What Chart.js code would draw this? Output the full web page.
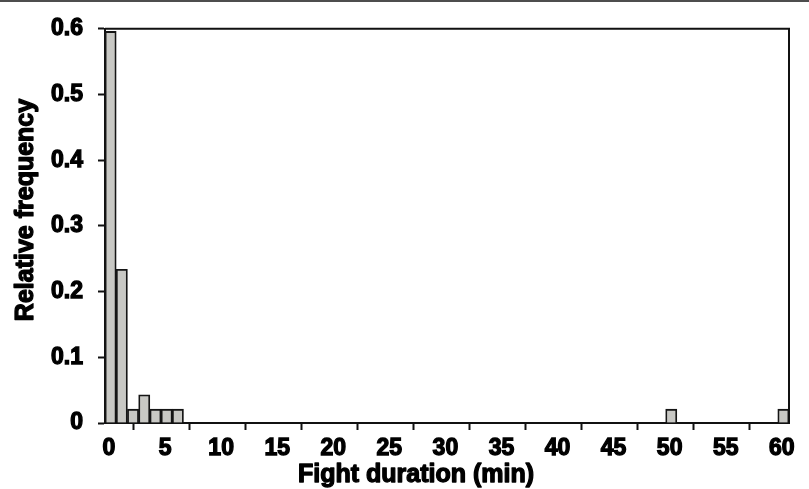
<!DOCTYPE html>
<html>
<head>
<meta charset="utf-8">
<script src="https://cdn.jsdelivr.net/npm/chart.js@4"></script>
<style>
  html, body { margin: 0; padding: 0; background: #fff; }
  #wrap { position: relative; width: 809px; height: 489px; }
  #topline { position: absolute; left: 0; top: 0; width: 809px; height: 2px; background: #4d4d4d; }
</style>
</head>
<body>
<div id="wrap">
  <canvas id="c" width="809" height="489"></canvas>
  <div id="topline"></div>
</div>
<script>
// Histogram bins: left edge (minutes) of each 1-minute bin that has data
const binStart = [0, 1, 2, 3, 4, 5, 6, 50, 60];
// Relative frequency of each bin
const relFreq = [0.596, 0.234, 0.021, 0.043, 0.021, 0.021, 0.021, 0.021, 0.021];
const binWidth = 1;
// Axis ticks
const xTicks = [0, 5, 10, 15, 20, 25, 30, 35, 40, 45, 50, 55, 60];
const yTicks = [0, 0.1, 0.2, 0.3, 0.4, 0.5, 0.6];
const yTickLabels = ['0', '0.1', '0.2', '0.3', '0.4', '0.5', '0.6'];
const xTitle = 'Fight duration (min)';
const yTitle = 'Relative frequency';

const FONT = "'Liberation Sans', Arial, sans-serif";

const points = binStart.map((b, i) => ({ x: b + binWidth / 2, y: relFreq[i] }));

const framePlugin = {
  id: 'frame',
  afterDatasetsDraw(chart) {
    const { ctx, chartArea: a } = chart;
    ctx.save();
    ctx.strokeStyle = '#111';
    ctx.lineWidth = 2;
    ctx.beginPath();
    ctx.moveTo(a.left, a.top);
    ctx.lineTo(a.right, a.top);
    ctx.lineTo(a.right, a.bottom);
    ctx.stroke();
    ctx.restore();
  }
};

const titlePlugin = {
  id: 'axisTitles',
  afterDraw(chart) {
    const { ctx } = chart;
    ctx.save();
    ctx.fillStyle = '#000';
    ctx.strokeStyle = '#000';
    ctx.lineWidth = 1.3;
    ctx.lineJoin = 'round';
    ctx.font = "bold 25px " + FONT;
    ctx.textAlign = 'center';
    ctx.textBaseline = 'middle';
    ctx.strokeText(xTitle, 416, 475);
    ctx.fillText(xTitle, 416, 475);
    ctx.translate(26, 210);
    ctx.rotate(-Math.PI / 2);
    ctx.strokeText(yTitle, 0, 0);
    ctx.fillText(yTitle, 0, 0);
    ctx.restore();
  }
};

new Chart(document.getElementById('c'), {
  type: 'bar',
  data: {
    datasets: [{
      data: points,
      backgroundColor: 'rgb(200,200,196)',
      borderColor: '#151515',
      borderWidth: 1.8,
      borderSkipped: 'start',
      barPercentage: 1,
      categoryPercentage: 1
    }]
  },
  options: {
    responsive: false,
    animation: false,
    events: [],
    layout: { padding: { left: 0, top: 23, right: 20, bottom: 0 } },
    plugins: { legend: { display: false }, tooltip: { enabled: false }, title: { display: false } },
    scales: {
      x: {
        type: 'linear',
        min: 0,
        max: 61,
        offset: false,
        afterBuildTicks(s) { s.ticks = xTicks.map(v => ({ value: v })); },
        afterFit(s) { s.height = 66; },
        grid: { drawOnChartArea: false, drawTicks: true, tickLength: 7, tickWidth: 2, tickColor: '#111' },
        border: { display: true, color: '#111', width: 2 },
        ticks: {
          color: '#000',
          textStrokeColor: '#000',
          textStrokeWidth: 1.3,
          font: { family: FONT, size: 23, weight: 'bold' },
          padding: 5,
          labelOffset: 4,
          maxRotation: 0,
          autoSkip: false,
          callback: (v) => String(v)
        },
        title: { display: false }
      },
      y: {
        type: 'linear',
        min: 0,
        max: 0.6,
        afterBuildTicks(s) { s.ticks = yTicks.map(v => ({ value: v })); },
        afterFit(s) { s.width = 105; },
        grid: { drawOnChartArea: false, drawTicks: true, tickLength: 7, tickWidth: 2, tickColor: '#111' },
        border: { display: true, color: '#111', width: 2 },
        ticks: {
          color: '#000',
          textStrokeColor: '#000',
          textStrokeWidth: 1.3,
          font: { family: FONT, size: 23, weight: 'bold' },
          padding: 15,
          autoSkip: false,
          callback: (v, i) => yTickLabels[i]
        },
        title: { display: false }
      }
    }
  },
  plugins: [framePlugin, titlePlugin]
});
</script>
</body>
</html>
